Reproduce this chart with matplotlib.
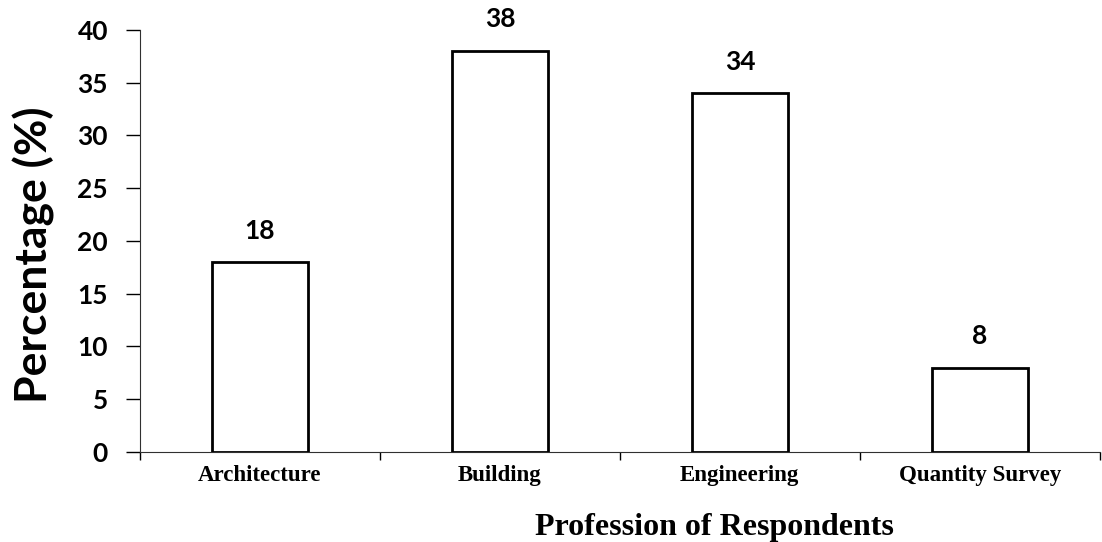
import numpy as np
import matplotlib.pyplot as plt

professions = ["Architecture", "Building", "Engineering", "Quantity Survey"]
percent = [18, 38, 34, 8]
y_ticks = [0, 5, 10, 15, 20, 25, 30, 35, 40]

W, H = 1102, 542
fig = plt.figure(figsize=(W / 100, H / 100), dpi=100)
ax = fig.add_axes([0.127, 0.166, 0.871, 0.779])

x = np.arange(len(professions))
bars = ax.bar(x, percent, width=0.4, color="white", edgecolor="black", linewidth=2, zorder=3)

for b, v in zip(bars, percent):
    ax.annotate(str(v), (b.get_x() + b.get_width() / 2, v), xytext=(0, 14),
                textcoords="offset points", ha="center", va="bottom",
                fontsize=19, fontweight="bold", family="Lato")

ax.set_xlim(-0.5, len(professions) - 0.5)
ax.set_ylim(0, 40)
ax.set_yticks(y_ticks)
ax.set_yticklabels([str(t) for t in y_ticks], fontsize=19, fontweight="bold", family="Lato")

# category labels sit between boundary ticks
ax.set_xticks(x, professions, minor=True)
ax.set_xticks(np.arange(len(professions) + 1) - 0.5, [""] * (len(professions) + 1))
ax.tick_params(axis="x", which="minor", length=0, pad=9)
ax.tick_params(axis="x", which="major", length=6, width=1)
ax.tick_params(axis="y", length=10, width=1, pad=13)
for lab in ax.get_xticklabels(minor=True):
    lab.set_family("Liberation Serif")
    lab.set_fontweight("bold")
    lab.set_fontsize(16.5)

ax.spines["top"].set_visible(False)
ax.spines["right"].set_visible(False)
ax.spines["left"].set_color("#303030")
ax.spines["bottom"].set_color("#303030")

fig.text(34 / W, 1 - 255 / H, "Percentage (%)", rotation=90, ha="center", va="center",
         fontsize=32, fontweight="bold", family="Lato")
fig.text(714 / W, 1 - 535 / H, "Profession of Respondents", ha="center", va="baseline",
         fontsize=23, fontweight="bold", family="Liberation Serif")

fig.savefig("out.png", dpi=100)
